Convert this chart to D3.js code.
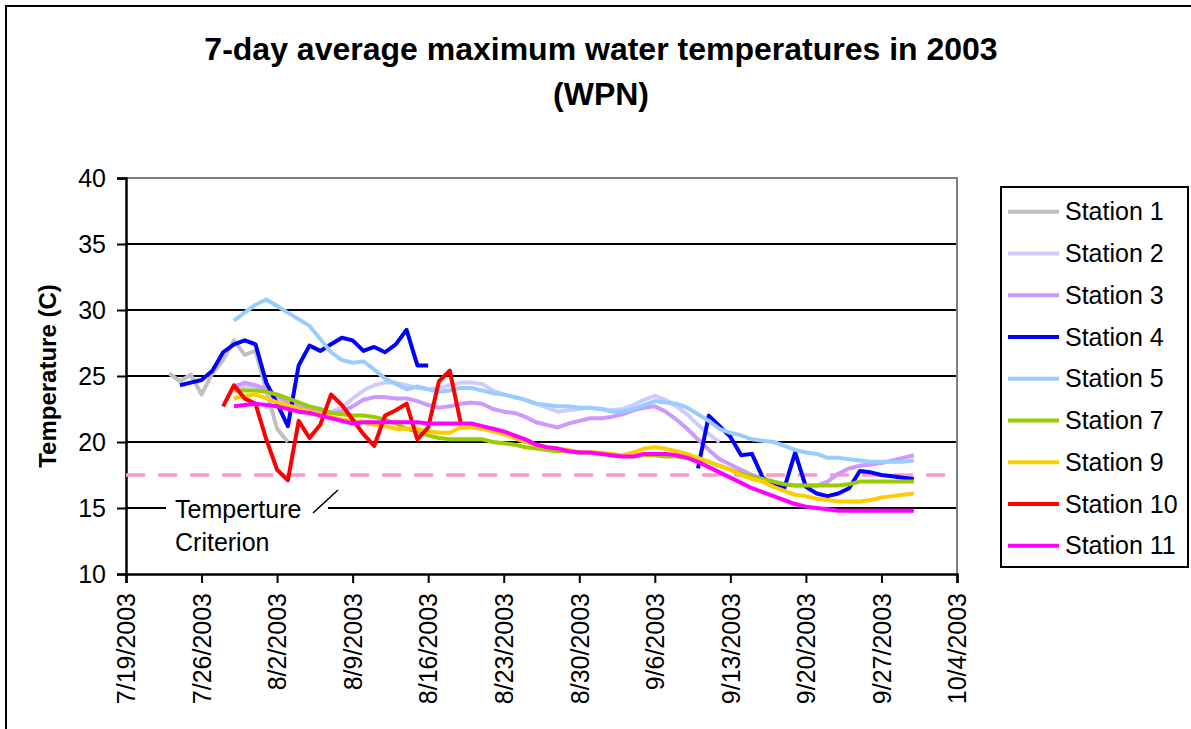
<!DOCTYPE html>
<html><head><meta charset="utf-8">
<script src="https://cdn.jsdelivr.net/npm/d3@7"></script>
<style>
body{margin:0;background:#fff}
svg{display:block}
text{font-family:"Liberation Sans",Arial,sans-serif;fill:#000}
</style>
</head><body>
<svg id="chart" width="1191" height="729"></svg>
<script>
// ---------- data ----------
const titleLines = ["7-day average maximum water temperatures in 2003", "(WPN)"];
const yTitle = "Temperature (C)";
const xTickLabels = ["7/19/2003","7/26/2003","8/2/2003","8/9/2003","8/16/2003","8/23/2003","8/30/2003","9/6/2003","9/13/2003","9/20/2003","9/27/2003","10/4/2003"];
const yTickValues = [10,15,20,25,30,35,40];
const criterion = 17.5;
const criterionLabel = ["Temperture", "Criterion"];

const seriesNames  = ["Station 1","Station 2","Station 3","Station 4","Station 5","Station 7","Station 9","Station 10","Station 11"];
const seriesStarts = ["7/23/2003","7/29/2003","7/29/2003","7/24/2003","7/29/2003","7/29/2003","7/29/2003","7/28/2003","7/29/2003"];
const seriesColors = ["#C0C0C0","#CCCCFF","#CC99FF","#0000FF","#99CCFF","#99CC00","#FFCC00","#FF0000","#FF00FF"];

const station1 = [25.2,24.6,25.1,23.6,25.2,26.2,27.7,26.6,26.9,23.9,21.0,20.0];
const station2 = [24.0,24.2,24.2,23.8,23.2,22.9,22.7,22.5,22.3,22.3,
                  22.6,23.3,23.9,24.3,24.5,24.5,24.3,24.1,24.0,24.1,
                  24.3,24.5,24.5,24.4,23.9,23.6,23.4,23.2,22.9,22.6,
                  22.3,22.4,22.5,22.6,22.5,22.4,22.5,22.8,23.2,23.5,
                  23.2,22.7,22.1,21.3,20.6,20.0];
const station3 = [24.2,24.5,24.3,24.0,23.5,23.0,22.7,22.6,22.4,22.2,
                  22.3,22.7,23.2,23.4,23.4,23.3,23.3,23.1,22.8,22.6,
                  22.7,22.9,23.0,22.9,22.5,22.3,22.2,21.9,21.5,21.3,
                  21.1,21.4,21.6,21.8,21.8,21.9,22.1,22.4,22.6,22.7,
                  22.3,21.7,21.0,20.2,19.4,18.7,18.3,17.9,17.5,17.2,
                  17.0,16.8,16.7,16.7,16.7,17.0,17.6,18.0,18.2,18.3,
                  18.4,18.6,18.8,19.0];
const station4 = [24.3,24.5,24.7,25.4,26.8,27.4,27.7,27.4,24.5,22.9,
                  21.2,25.8,27.3,26.9,27.4,27.9,27.7,26.9,27.2,26.8,
                  27.4,28.5,25.8,25.8,
                  null,null,null,null,null,null,null,null,null,null,null,null,
                  null,null,null,null,null,null,null,null,null,null,null,null,
                  18.0,22.0,21.2,20.4,19.0,19.1,17.3,16.7,16.5,19.2,
                  16.6,16.1,15.9,16.1,16.5,17.8,17.7,17.5,17.4,17.3,17.2];
const station5 = [29.2,29.8,30.4,30.8,30.3,29.8,29.3,28.8,27.8,26.8,
                  26.2,26.0,26.1,25.5,24.8,24.4,24.0,24.2,24.0,23.8,
                  23.9,24.1,24.1,23.9,23.7,23.6,23.4,23.2,22.9,22.8,
                  22.7,22.7,22.6,22.6,22.5,22.3,22.3,22.5,22.8,23.1,
                  23.0,22.9,22.6,22.1,21.6,21.0,20.7,20.5,20.2,20.1,
                  20.0,19.7,19.4,19.2,19.1,18.8,18.8,18.7,18.6,18.5,
                  18.5,18.5,18.5,18.6];
const station7 = [23.9,23.9,23.9,23.8,23.6,23.3,23.0,22.7,22.5,22.2,
                  22.1,22.0,22.0,21.9,21.7,21.4,21.0,20.8,20.5,20.3,
                  20.2,20.2,20.2,20.2,20.0,19.9,19.8,19.6,19.5,19.4,
                  19.3,19.3,19.2,19.2,19.1,19.0,18.9,18.9,19.0,19.0,
                  18.9,18.9,18.8,18.7,18.5,18.2,17.9,17.6,17.4,17.2,
                  17.0,16.8,16.7,16.7,16.7,16.7,16.7,16.8,17.0,17.0,
                  17.0,17.0,17.0,17.0];
const station9 = [23.3,23.5,23.6,23.3,23.0,22.8,22.5,22.3,22.1,21.9,
                  21.7,21.6,21.5,21.3,21.2,21.0,21.0,21.0,20.8,20.7,
                  20.7,21.1,21.1,21.0,20.8,20.6,20.3,20.0,19.8,19.6,
                  19.5,19.4,19.2,19.2,19.2,19.1,19.0,19.2,19.5,19.6,
                  19.5,19.3,19.1,18.8,18.5,18.2,17.9,17.5,17.2,17.0,
                  16.6,16.3,16.0,15.9,15.7,15.6,15.5,15.5,15.5,15.6,
                  15.8,15.9,16.0,16.1];
const station10 = [22.7,24.3,23.3,22.9,20.2,17.9,17.1,21.6,20.3,21.3,
                   23.6,22.8,21.7,20.6,19.7,22.0,22.4,22.9,20.2,21.1,
                   24.6,25.4,21.5];
const station11 = [22.7,22.8,22.9,22.8,22.7,22.5,22.3,22.2,22.0,21.8,
                   21.6,21.4,21.5,21.5,21.5,21.5,21.5,21.5,21.4,21.4,
                   21.4,21.4,21.4,21.2,21.0,20.8,20.5,20.2,19.8,19.6,
                   19.5,19.3,19.2,19.2,19.1,19.0,18.9,18.9,19.1,19.1,
                   19.1,19.0,18.8,18.5,18.1,17.7,17.3,16.9,16.5,16.2,
                   15.9,15.6,15.3,15.1,15.0,14.9,14.8,14.8,14.8,14.8,
                   14.8,14.8,14.8,14.8];
const seriesValues = [station1,station2,station3,station4,station5,station7,station9,station10,station11];

// ---------- chart ----------
const parse = d3.timeParse("%m/%d/%Y");
const svg = d3.select("#chart");
const FONT = 25;

svg.append("rect").attr("width",1191).attr("height",729).attr("fill","#fff");
// outer chart frame
svg.append("rect").attr("x",6).attr("y",6).attr("width",1200).attr("height",740)
  .attr("fill","none").attr("stroke","#000").attr("stroke-width",2);

const plot = {left:126, right:957, top:178, bottom:574};
const x = d3.scaleTime()
  .domain([parse(xTickLabels[0]), parse(xTickLabels[xTickLabels.length-1])])
  .range([plot.left, plot.right]);
const y = d3.scaleLinear().domain([10,40]).range([plot.bottom, plot.top]);

// title
svg.append("text").attr("x",601).attr("y",60).attr("text-anchor","middle")
  .attr("font-size",32).attr("font-weight","bold").text(titleLines[0]);
svg.append("text").attr("x",601).attr("y",105).attr("text-anchor","middle")
  .attr("font-size",32).attr("font-weight","bold").text(titleLines[1]);

// gridlines
svg.append("g").selectAll("line").data(yTickValues.filter(v=>v>10 && v<40)).join("line")
  .attr("x1",plot.left).attr("x2",plot.right)
  .attr("y1",d=>y(d)).attr("y2",d=>y(d))
  .attr("stroke","#000").attr("stroke-width",2);
// plot area border (top/right, gray)
svg.append("path")
  .attr("d",`M${plot.left},${plot.top}H${plot.right}V${plot.bottom}`)
  .attr("fill","none").attr("stroke","#808080").attr("stroke-width",2);

// y axis
const yAxis = d3.axisLeft(y).tickValues(yTickValues).tickSize(9).tickPadding(11).tickFormat(d3.format("d"));
const gy = svg.append("g").attr("transform",`translate(${plot.left},0)`).call(yAxis);
gy.select(".domain").attr("stroke","#000").attr("stroke-width",2.5);
gy.selectAll(".tick line").attr("stroke","#000").attr("stroke-width",2);
gy.selectAll(".tick text").attr("font-size",FONT).attr("font-family","Liberation Sans, Arial, sans-serif").attr("fill","#000");

// x axis
const xAxis = d3.axisBottom(x).tickValues(xTickLabels.map(parse)).tickSize(9)
  .tickFormat(d3.timeFormat("%-m/%-d/%Y"));
const gx = svg.append("g").attr("transform",`translate(0,${plot.bottom})`).call(xAxis);
gx.select(".domain").attr("stroke","#000").attr("stroke-width",2.5);
gx.selectAll(".tick line").attr("stroke","#000").attr("stroke-width",2);
gx.selectAll(".tick text").attr("font-size",FONT).attr("font-family","Liberation Sans, Arial, sans-serif").attr("fill","#000")
  .attr("transform","rotate(-90)").attr("text-anchor","end")
  .attr("x",-19).attr("y",0).attr("dy","0.35em");

// y title
svg.append("text").attr("transform","translate(56,376) rotate(-90)")
  .attr("text-anchor","middle").attr("font-size",24).attr("font-weight","bold").text(yTitle);

// criterion dashed line
svg.append("line").attr("x1",plot.left).attr("x2",plot.right)
  .attr("y1",y(criterion)).attr("y2",y(criterion))
  .attr("stroke","#FF99CC").attr("stroke-width",3.5).attr("stroke-dasharray","19,13");

// criterion label with white background
svg.append("rect").attr("x",166).attr("y",492).attr("width",162).attr("height",66).attr("fill","#fff");
svg.append("text").attr("x",175).attr("y",518).attr("font-size",FONT).text(criterionLabel[0]);
svg.append("text").attr("x",175).attr("y",551).attr("font-size",FONT).text(criterionLabel[1]);
svg.append("line").attr("x1",313).attr("y1",513).attr("x2",338).attr("y2",490)
  .attr("stroke","#000").attr("stroke-width",1.5);

// series
const line = d3.line().defined(d=>d.v!==null).x(d=>x(d.date)).y(d=>y(d.v));
seriesNames.forEach((name,i)=>{
  const start = parse(seriesStarts[i]);
  const pts = seriesValues[i].map((v,j)=>({date:d3.timeDay.offset(start,j), v}));
  svg.append("path").datum(pts).attr("d",line)
    .attr("fill","none").attr("stroke",seriesColors[i]).attr("stroke-width",4)
    .attr("stroke-linejoin","round").attr("stroke-linecap","butt");
});

// legend
const lg = svg.append("g");
lg.append("rect").attr("x",1001).attr("y",187).attr("width",187).attr("height",380)
  .attr("fill","#fff").attr("stroke","#000").attr("stroke-width",2);
seriesNames.forEach((name,i)=>{
  const cy = 211.7 + i*41.75;
  lg.append("line").attr("x1",1008).attr("x2",1059).attr("y1",cy).attr("y2",cy)
    .attr("stroke",seriesColors[i]).attr("stroke-width",4);
  lg.append("text").attr("x",1065).attr("y",cy).attr("dy","0.35em").attr("font-size",FONT).text(name);
});
</script>
</body></html>
